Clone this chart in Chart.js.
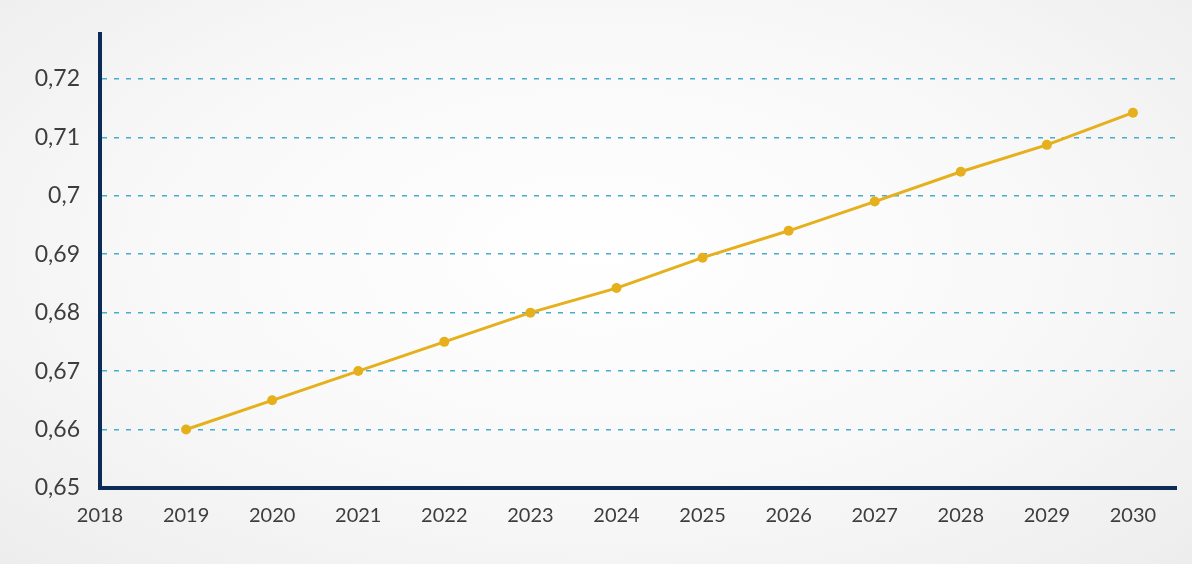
<!DOCTYPE html>
<html>
<head>
<meta charset="utf-8">
<script src="https://cdn.jsdelivr.net/npm/chart.js@4/dist/chart.umd.min.js"></script>
<style>
    html, body {
        margin: 0;
        padding: 0;
        width: 1192px;
        height: 564px;
        overflow: hidden;
        background: radial-gradient(ellipse at 50% 45%, #ffffff 0%, #f8f8f8 55%, #ededed 100%);
    }
    #wrap {
        position: relative;
        width: 1192px;
        height: 564px;
    }
</style>
</head>
<body>
<div id="wrap"><canvas id="chartLine"></canvas></div>
<script>
    // years and values
    var years = [2019, 2020, 2021, 2022, 2023, 2024, 2025, 2026, 2027, 2028, 2029, 2030];
    var values = [0.66, 0.665, 0.67, 0.675, 0.68, 0.6842, 0.6894, 0.694, 0.699, 0.7041, 0.7087, 0.7142];
    var xTicks = [2018, 2019, 2020, 2021, 2022, 2023, 2024, 2025, 2026, 2027, 2028, 2029, 2030];
    var yTicks = [0.65, 0.66, 0.67, 0.68, 0.69, 0.70, 0.71, 0.72];

    var lineColor = '#e5b01c';

    let points = [];
    for (let i = 0; i < years.length; i++) {
        points.push({ x: years[i], y: values[i] });
    }

    let ctx = document.getElementById('chartLine').getContext('2d');

    let lineChart = new Chart(ctx, {
        type: 'line',
        data: {
            datasets: [{
                label: 'value',
                data: points,
                borderColor: lineColor,
                backgroundColor: lineColor,
                borderWidth: 3,
                pointRadius: 5,
                pointBorderWidth: 0,
                pointBackgroundColor: lineColor,
                tension: 0
            }]
        },
        options: {
            responsive: true,
            maintainAspectRatio: false,
            animation: false,
            layout: {
                padding: { left: 0, top: 32, right: 16, bottom: 0 }
            },
            plugins: {
                legend: { display: false },
                tooltip: { enabled: false }
            },
            scales: {
                x: {
                    type: 'linear',
                    min: 2018,
                    max: 2030.5,
                    afterBuildTicks: function (axis) {
                        axis.ticks = xTicks.map(function (v) { return { value: v }; });
                    },
                    afterFit: function (axis) {
                        axis.height = 76;
                    },
                    ticks: {
                        padding: 16,
                        color: '#3d3d3d',
                        font: { family: 'Lato', size: 20 },
                        callback: function (value) {
                            return String(value);
                        }
                    },
                    grid: {
                        display: false,
                        drawTicks: false
                    },
                    border: {
                        display: true,
                        color: '#0c2c57',
                        width: 4
                    }
                },
                y: {
                    min: 0.65,
                    max: 0.7277,
                    afterBuildTicks: function (axis) {
                        axis.ticks = yTicks.map(function (v) { return { value: v }; });
                    },
                    afterFit: function (axis) {
                        axis.width = 100;
                    },
                    ticks: {
                        padding: 20,
                        color: '#3d3d3d',
                        font: { family: 'Lato', size: 23 },
                        callback: function (value) {
                            return parseFloat(value.toFixed(2)).toString().replace('.', ',');
                        }
                    },
                    grid: {
                        display: true,
                        drawTicks: false,
                        color: '#45aecf',
                        lineWidth: 1.5
                    },
                    border: {
                        display: true,
                        color: '#0c2c57',
                        width: 4,
                        dash: [5, 7]
                    }
                }
            }
        }
    });
</script>
</body>
</html>
